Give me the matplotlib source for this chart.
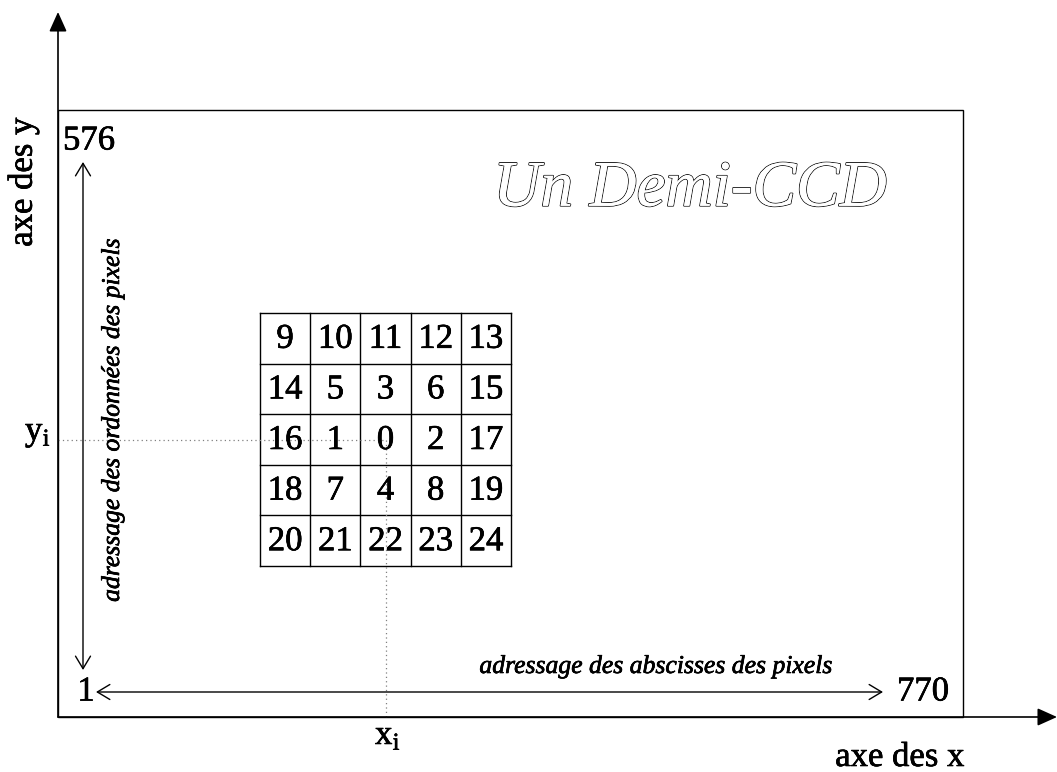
import matplotlib
matplotlib.use("Agg")
import matplotlib.pyplot as plt
from matplotlib.patches import Rectangle
import matplotlib.patheffects as pe

plt.rcParams['font.family'] = 'Liberation Serif'
plt.rcParams['mathtext.fontset'] = 'custom'
plt.rcParams['mathtext.rm'] = 'Liberation Serif'

# ---- data ----
grid_labels = [
    [9, 10, 11, 12, 13],
    [14, 5, 3, 6, 15],
    [16, 1, 0, 2, 17],
    [18, 7, 4, 8, 19],
    [20, 21, 22, 23, 24],
]
x_range = ["1", "770"]
y_range = ["1", "576"]
title = "Un Demi-CCD"
x_axis_label = "axe des x"
y_axis_label = "axe des y"
x_addr_label = "adressage des abscisses des pixels"
y_addr_label = "adressage des ordonnées des pixels"

# ---- layout (pixel coordinates) ----
W, H = 1057, 772
fig = plt.figure(figsize=(W / 100, H / 100), dpi=100)
ax = fig.add_axes([0, 0, 1, 1])
ax.set_xlim(0, W)
ax.set_ylim(H, 0)
ax.axis('off')

heavy = [pe.withStroke(linewidth=0.45, foreground='black'), pe.Normal()]
SERIF = 'Liberation Serif'

ox, oy = 58, 717          # origin of the main axes
rect_r, rect_t = 963, 110  # CCD rectangle right / top

# main axes arrows
for tip in [(ox, 12), (W, oy)]:
    ax.annotate('', xy=tip, xytext=(ox, oy),
                arrowprops=dict(arrowstyle='-|>,head_length=0.6,head_width=0.27',
                                mutation_scale=20, lw=1.2, color='black',
                                shrinkA=0, shrinkB=0))

# CCD rectangle
ax.add_patch(Rectangle((ox, rect_t), rect_r - ox, oy - rect_t,
                       fill=False, edgecolor='black', lw=1.0))

# address double arrows
ax.annotate('', xy=(83, 162), xytext=(83, 670),
            arrowprops=dict(arrowstyle='<->,head_length=0.45,head_width=0.27',
                            mutation_scale=20, lw=1.0, color='black',
                            shrinkA=0, shrinkB=0))
ax.annotate('', xy=(96, 692), xytext=(883, 692),
            arrowprops=dict(arrowstyle='<->,head_length=0.45,head_width=0.27',
                            mutation_scale=20, lw=1.0, color='black',
                            shrinkA=0, shrinkB=0))

# pixel grid
gx0, gy0, cw, ch = 260, 313, 50.2, 50.6
n = len(grid_labels)
for i in range(n + 1):
    ax.plot([gx0, gx0 + n * cw], [gy0 + i * ch, gy0 + i * ch], color='black', lw=1.0)
    ax.plot([gx0 + i * cw, gx0 + i * cw], [gy0, gy0 + n * ch], color='black', lw=1.0)

# dotted guide lines to centre pixel (label 0)
ci, cj = 2, 2
cx = gx0 + (cj + 0.5) * cw
cy = gy0 + (ci + 0.5) * ch
ax.plot([ox, cx], [cy, cy], color='gray', lw=0.9, ls=(0, (1, 2.5)))
ax.plot([cx, cx], [cy, oy], color='gray', lw=0.9, ls=(0, (1, 2.5)))

for i, row in enumerate(grid_labels):
    for j, v in enumerate(row):
        ax.text(gx0 + (j + 0.5) * cw, gy0 + (i + 0.5) * ch + 1, str(v),
                ha='center', va='center', fontsize=25, color='black',
                family=SERIF, path_effects=heavy)

# texts
ax.text(63, 141, y_range[1], ha='left', va='center', fontsize=25,
        family=SERIF, path_effects=heavy)
ax.text(86, 692, x_range[0], ha='center', va='center', fontsize=25,
        family=SERIF, path_effects=heavy)
ax.text(897, 692, x_range[1], ha='left', va='center', fontsize=25,
        family=SERIF, path_effects=heavy)
ax.text(38, 440, r'y$_\mathregular{i}$', ha='center', va='baseline', fontsize=25,
        family=SERIF, path_effects=heavy)
ax.text(388, 744, r'x$_\mathregular{i}$', ha='center', va='baseline', fontsize=25,
        family=SERIF, path_effects=heavy)
ax.text(23, 182, y_axis_label, ha='center', va='center', rotation=90, fontsize=25,
        family=SERIF, path_effects=heavy)
ax.text(900, 766, x_axis_label, ha='center', va='baseline', fontsize=25,
        family=SERIF, path_effects=heavy)
ax.text(113, 420, y_addr_label, ha='center', va='center', rotation=90,
        fontsize=18.5, style='italic', family=SERIF, path_effects=heavy)
ax.text(656, 667, x_addr_label, ha='center', va='center',
        fontsize=18.5, style='italic', family=SERIF, path_effects=heavy)
ax.text(690, 190, title, ha='center', va='center', fontsize=47, style='italic',
        color='white', family=SERIF,
        path_effects=[pe.withStroke(linewidth=1.2, foreground='black'), pe.Normal()])

fig.savefig('out.png', dpi=100)
